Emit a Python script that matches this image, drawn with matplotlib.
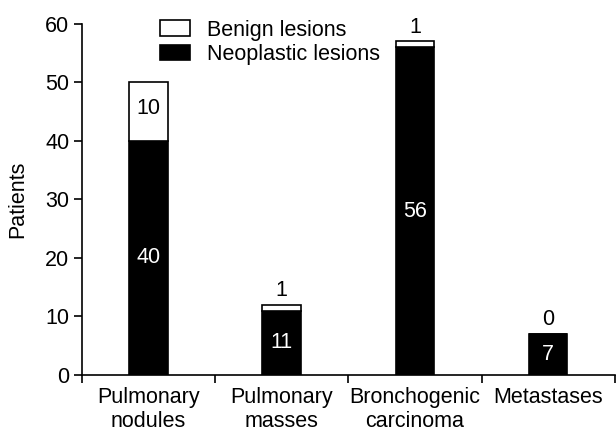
import numpy as np
import matplotlib
matplotlib.use("Agg")
import matplotlib.pyplot as plt

plt.rcParams['font.family'] = ['Liberation Sans', 'DejaVu Sans']

categories = ['Pulmonary\nnodules', 'Pulmonary\nmasses', 'Bronchogenic\ncarcinoma', 'Metastases']
neoplastic = [40, 11, 56, 7]
benign = [10, 1, 1, 0]

fs = 15.5
x = np.arange(len(categories))
fig = plt.figure(figsize=(6.16, 4.33), dpi=100)
ax = fig.add_axes([0.133, 0.134, 0.865, 0.811])

ax.bar(x, neoplastic, width=0.29, color='black', edgecolor='black', linewidth=1.2,
       label='Neoplastic lesions', zorder=2)
ax.bar(x, benign, width=0.29, bottom=neoplastic, color='white', edgecolor='black',
       linewidth=1.2, label='Benign lesions', zorder=2)

for i in range(len(x)):
    ax.text(x[i], neoplastic[i] / 2, str(neoplastic[i]), color='white',
            ha='center', va='center', fontsize=fs)
    if benign[i] >= 5:
        ax.text(x[i], neoplastic[i] + benign[i] / 2 + 0.5, str(benign[i]), color='black',
                ha='center', va='center', fontsize=fs)
    else:
        ax.text(x[i], neoplastic[i] + benign[i] + 2.4, str(benign[i]), color='black',
                ha='center', va='center', fontsize=fs)

ax.set_xlim(-0.5, 3.5)
ax.set_ylim(0, 60)
ax.set_yticks(range(0, 61, 10))
ax.set_xticks(x)
ax.set_xticklabels(categories, fontsize=fs, linespacing=1.15)
ax.tick_params(axis='x', which='major', length=0, pad=9)
ax.set_xticks(np.arange(-0.5, 4, 1), minor=True)
ax.tick_params(axis='x', which='minor', length=6, width=1.2, direction='out')
ax.tick_params(axis='y', labelsize=fs, length=6, width=1.2, direction='out', pad=3)
ax.spines['top'].set_visible(False)
ax.spines['right'].set_visible(False)
ax.spines['left'].set_linewidth(1.2)
ax.spines['bottom'].set_linewidth(1.2)
ax.set_ylabel('Patients', fontsize=fs, labelpad=12)

handles, labels = ax.get_legend_handles_labels()
ax.legend(handles[::-1], labels[::-1], loc='upper left', bbox_to_anchor=(0.146, 1.012),
          frameon=False, fontsize=fs, handlelength=1.4, handleheight=0.72,
          labelspacing=0.15, handletextpad=0.8, borderpad=0, borderaxespad=0)

fig.savefig('out.png', dpi=100)
